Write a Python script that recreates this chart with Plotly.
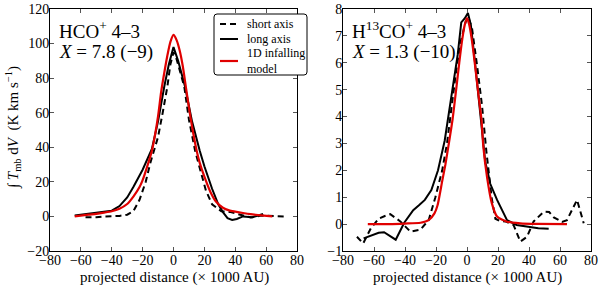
import plotly.graph_objects as go
from plotly.subplots import make_subplots

# ---------------- data: HCO+ 4-3 (left panel) ----------------
hco_short_x = [-57, -50, -45, -40, -35, -30, -26, -22, -18, -15, -12, -10, -7, -4, -2, 0, 2, 4, 7, 10, 12, 14, 17, 21, 25, 31, 37, 43, 50, 57, 66, 72]
hco_short_y = [-0.5, -0.5, 0, 0, 0.3, 1, 3, 9.6, 20, 31, 40, 46, 60, 75, 88, 95, 91, 85, 75, 56, 46, 38, 28, 15, 7, 3, 2.5, 1, -0.6, 0.5, 0, 0]

hco_long_x = [-64, -55, -50, -40, -35, -30, -26, -20, -14, -10, -6, -3, 0, 3, 7.5, 12, 17, 20, 25, 29, 32, 35, 38, 41, 45, 51, 55, 58]
hco_long_y = [0.5, 1.4, 2, 3.3, 6, 11, 17, 27, 39, 55, 75, 88, 98, 90, 75, 55, 38, 29, 16, 7, 2.5, -1, -2, -1.5, 0, -0.5, 0.5, 1.5]

hco_model_x = [-64, -55, -50, -45, -40, -35, -30, -26, -22, -20, -17, -14, -12, -10, -8, -6, -4, -2, 0, 2, 4, 6, 8, 10, 12, 15, 17, 20, 24, 27.5, 32, 36, 40, 45, 50, 55, 64]
hco_model_y = [0, 1, 1.5, 2.2, 3, 4.5, 7.2, 11.5, 17, 21, 29, 38, 47, 58, 72, 83, 93, 101, 105, 102, 96, 87, 75, 63, 52, 38, 31, 23, 14, 8.6, 5, 3.5, 2.8, 2, 1.3, 0.8, 0]

# ---------------- data: H13CO+ 4-3 (right panel) ----------------
h13_short_x = [-71, -67, -62, -57, -53, -49.5, -43, -36.5, -30, -24.7, -20.4, -16, -12.9, -10, -7, -4, -1, 0.8, 3.2, 6.5, 9.7, 12.5, 14.5, 16, 18.3, 21, 24.7, 30, 34.4, 38.7, 43, 46, 49.5, 53, 56, 61.3, 64.5, 71, 75.3]
h13_short_y = [-0.47, -0.72, -0.15, 0.2, 0.3, 0.37, 0.1, -0.28, -0.2, 0.15, 1.0, 2.0, 3.0, 4.3, 5.7, 6.8, 7.5, 7.7, 7.3, 5.9, 4.4, 2.7, 1.6, 0.95, 0.2, 0.12, 0.1, -0.03, -0.65, -0.47, 0.1, 0.25, 0.46, 0.45, 0.25, 0.08, 0.15, 0.9, 0.03]

h13_long_x = [-66.7, -61, -57, -53.5, -50, -46, -40.5, -34.7, -31, -27.2, -23, -18.7, -14.4, -10, -6, -3.7, -1.5, 0.6, 2.5, 5, 8, 10, 11.8, 13.5, 15, 19.4, 25.8, 32, 40.8, 46, 52.7]
h13_long_y = [-0.53, -0.4, -0.32, -0.3, -0.42, -0.58, 0.05, 0.52, 0.7, 0.9, 1.27, 2.0, 3.1, 4.7, 6.3, 7.5, 7.65, 7.85, 7.4, 6.1, 4.3, 3.2, 2.3, 1.9, 1.5, 0.9, 0.15, -0.03, -0.12, -0.15, -0.17]

h13_model_x = [-64, -50, -40, -30, -24.7, -21, -19, -16, -14, -12, -9.3, -7, -5, -3, -1.5, 0, 1.5, 3, 5, 7, 9.3, 10.5, 12.9, 16, 19.4, 25.8, 34.4, 45, 64.5]
h13_model_y = [0, 0, 0.02, 0.05, 0.15, 0.4, 0.7, 1.6, 2.2, 2.9, 3.9, 5.0, 6.0, 6.9, 7.4, 7.66, 7.4, 6.9, 6.0, 5.0, 3.9, 2.9, 1.76, 0.78, 0.28, 0.09, 0.03, 0.01, 0]

x_ticks = [-80, -60, -40, -20, 0, 20, 40, 60, 80]
hco_y_ticks = [-20, 0, 20, 40, 60, 80, 100, 120]
h13_y_ticks = [-1, 0, 1, 2, 3, 4, 5, 6, 7, 8]

legend_labels = ["short axis", "long axis", "1D infalling<br>model"]

FONT = "Liberation Serif, DejaVu Serif, serif"
W, H = 600, 287
RED = "#e00000"
DASH = "6px,4px"

styles = [dict(color="black", width=2, dash=DASH),
          dict(color="black", width=2),
          dict(color=RED, width=2.2, shape="spline", smoothing=0.6)]

fig = make_subplots(rows=1, cols=2)

for (xs, ys), st, name in zip([(hco_short_x, hco_short_y), (hco_long_x, hco_long_y), (hco_model_x, hco_model_y)],
                              styles, legend_labels):
    fig.add_trace(go.Scatter(x=xs, y=ys, mode="lines", name=name, showlegend=False, line=st), row=1, col=1)
for (xs, ys), st, name in zip([(h13_short_x, h13_short_y), (h13_long_x, h13_long_y), (h13_model_x, h13_model_y)],
                              styles, legend_labels):
    fig.add_trace(go.Scatter(x=xs, y=ys, mode="lines", name=name, showlegend=False, line=st), row=1, col=2)

axis_common = dict(showline=True, linecolor="black", linewidth=1, mirror="ticks",
                   ticks="inside", ticklen=4, tickcolor="#555", showgrid=False, zeroline=False,
                   automargin=False,
                   tickfont=dict(family=FONT, size=14, color="black"))

ydom = [1 - 251 / H, 1 - 9 / H]
fig.update_xaxes(domain=[50 / W, 297 / W], range=[-80, 80], tickvals=x_ticks, ticklabelstandoff=-4,
                 row=1, col=1, **axis_common)
fig.update_xaxes(domain=[343 / W, 591 / W], range=[-80, 80], tickvals=x_ticks, ticklabelstandoff=-4,
                 row=1, col=2, **axis_common)
fig.update_yaxes(domain=ydom, range=[-20, 120], tickvals=hco_y_ticks, ticklabelstandoff=-3,
                 row=1, col=1, **axis_common)
fig.update_yaxes(domain=ydom, range=[-1, 8], tickvals=h13_y_ticks, ticklabelstandoff=-3,
                 row=1, col=2, **axis_common)

def px(x):
    return x / W

def py(y):
    return 1 - y / H

ann_font = dict(family=FONT, size=19, color="black")
annotations = [
    dict(text="HCO<sup>+</sup> 4–3", x=px(57), y=py(30)),
    dict(text="<i>X</i> = 7.8 (−9)", x=px(57), y=py(52)),
    dict(text="H<sup>13</sup>CO<sup>+</sup> 4–3", x=px(350), y=py(30)),
    dict(text="<i>X</i> = 1.3 (−10)", x=px(350), y=py(52)),
]
for a in annotations:
    fig.add_annotation(xref="paper", yref="paper", xanchor="left", yanchor="middle",
                       showarrow=False, font=ann_font, **a)

lab_font = dict(family=FONT, size=15, color="black")
for cx in (174, 467):
    fig.add_annotation(text="projected distance (× 1000 AU)", xref="paper", yref="paper",
                       x=px(cx), y=py(277), xanchor="center", yanchor="middle",
                       showarrow=False, font=lab_font)
fig.add_annotation(text="∫ <i>T</i><sub>mb</sub> d<i>V</i>  (K km s<sup>−1</sup>)", xref="paper", yref="paper",
                   x=px(13), y=py(128), xanchor="center", yanchor="middle", textangle=-90,
                   showarrow=False, font=lab_font)

# ---- legend box (drawn as decoration in paper coordinates) ----
x0, x1, y0, y1, r = 214, 307, 14, 75, 3
path = (f"M {px(x0 + r)},{py(y0)} L {px(x1 - r)},{py(y0)} Q {px(x1)},{py(y0)} {px(x1)},{py(y0 + r)} "
        f"L {px(x1)},{py(y1 - r)} Q {px(x1)},{py(y1)} {px(x1 - r)},{py(y1)} "
        f"L {px(x0 + r)},{py(y1)} Q {px(x0)},{py(y1)} {px(x0)},{py(y1 - r)} "
        f"L {px(x0)},{py(y0 + r)} Q {px(x0)},{py(y0)} {px(x0 + r)},{py(y0)} Z")
fig.add_shape(type="path", path=path, xref="paper", yref="paper",
              line=dict(color="black", width=1), fillcolor="white", layer="above")

leg_font = dict(family=FONT, size=12, color="black")
sample_rows = [24, 39, 61]
for st, name, yy in zip(styles, legend_labels, sample_rows):
    fig.add_shape(type="line", xref="paper", yref="paper", x0=px(220), x1=px(238), y0=py(yy), y1=py(yy),
                  line=dict(color=st["color"], width=st["width"], dash=st.get("dash", "solid")), layer="above")
    fig.add_annotation(text=name, xref="paper", yref="paper", x=px(245), y=py(yy),
                       xanchor="left", yanchor="middle", align="left", showarrow=False,
                       font=leg_font)

fig.update_layout(
    width=W, height=H,
    margin=dict(l=0, r=0, t=0, b=0, pad=0, autoexpand=False),
    paper_bgcolor="white", plot_bgcolor="white",
    font=dict(family=FONT, size=14, color="black"),
    showlegend=False,
)

fig.write_html("out.html", config={"displayModeBar": False},
               post_script="document.body.style.margin='0';document.body.style.overflow='hidden';")
